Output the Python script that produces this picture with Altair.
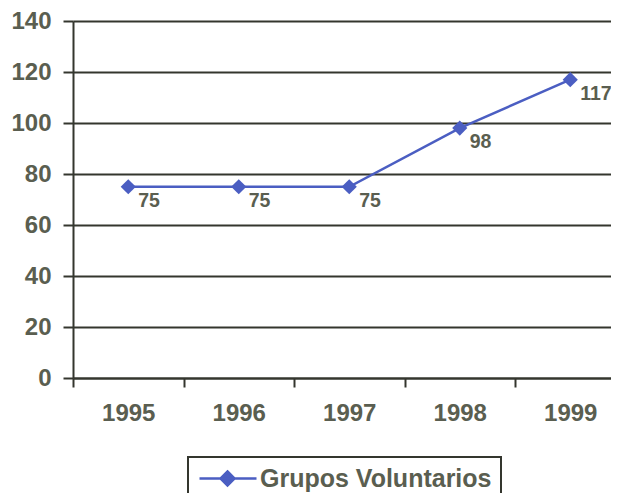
import altair as alt
import pandas as pd

years = [1995, 1996, 1997, 1998, 1999]
values = [75, 75, 75, 98, 117]
series = ["Grupos Voluntarios"] * 5
y_ticks = [0, 20, 40, 60, 80, 100, 120, 140]

df = pd.DataFrame({"year": years, "value": values, "serie": series})

BLUE = "#4b5ec2"
TEXT = "#5a5e50"
GRID = "#34362e"
FONT = "Liberation Sans"

PLOT_W = 538
BAND = 110.5

x_enc = alt.X(
    "year:Q",
    scale=alt.Scale(domain=[1994.5, 1994.5 + PLOT_W / BAND], nice=False, zero=False),
    axis=alt.Axis(
        title=None, values=years, format="d", labelAngle=0,
        tickOffset=-BAND / 2, labelOffset=BAND / 2,
        tickSize=9, tickWidth=2, tickColor=GRID, domainColor=GRID, domainWidth=2,
        labelPadding=14, labelFont=FONT, labelFontSize=24, labelFontWeight="bold",
        labelColor=TEXT, grid=False, labelFlush=False, labelOverlap=False,
    ),
)
y_enc = alt.Y(
    "value:Q",
    scale=alt.Scale(domain=[0, 140], nice=False),
    axis=alt.Axis(
        title=None, values=y_ticks, tickSize=10, tickWidth=2, tickColor=GRID,
        domainColor=GRID, domainWidth=2, labelPadding=12, labelFont=FONT,
        labelFontSize=24, labelFontWeight="bold", labelColor=TEXT,
        grid=True, gridColor=GRID, gridWidth=2, gridOpacity=1,
        labelFlush=False, labelOverlap=False,
    ),
)

legend_path = "M-1,0H4.7M1.8,-0.7L2.5,0L1.8,0.7L1.1,0Z"

line = alt.Chart(df).mark_line(strokeWidth=2.5).encode(
    x=x_enc,
    y=y_enc,
    color=alt.Color(
        "serie:N",
        scale=alt.Scale(range=[BLUE]),
        legend=alt.Legend(
            title=None, orient="none", legendX=115, legendY=436,
            symbolType=legend_path, symbolSize=400, symbolFillColor=BLUE,
            symbolStrokeColor=BLUE, symbolStrokeWidth=2.5,
            labelFont=FONT, labelFontSize=25, labelFontWeight="bold",
            labelColor=TEXT, labelOffset=38, labelLimit=400,
            strokeColor=GRID, padding=9,
        ),
    ),
)

points = alt.Chart(df).mark_point(
    shape="diamond", filled=True, size=230, color=BLUE, opacity=1
).encode(x=x_enc, y=y_enc)

labels = alt.Chart(df).mark_text(
    align="left", baseline="middle", dx=10, dy=14, font=FONT, fontSize=19.5,
    fontWeight="bold", color=TEXT,
).encode(x=x_enc, y=y_enc, text="value:Q")

chart = alt.layer(line, points, labels).properties(
    width=PLOT_W, height=357,
    autosize=alt.AutoSizeParams(type="none"),
    padding={"left": 65, "top": 13, "right": 0, "bottom": 115},
    background="white",
).configure_view(stroke=None).configure_legend(strokeWidth=2)

chart.save("out.html", embed_options={"renderer": "svg", "actions": False})
